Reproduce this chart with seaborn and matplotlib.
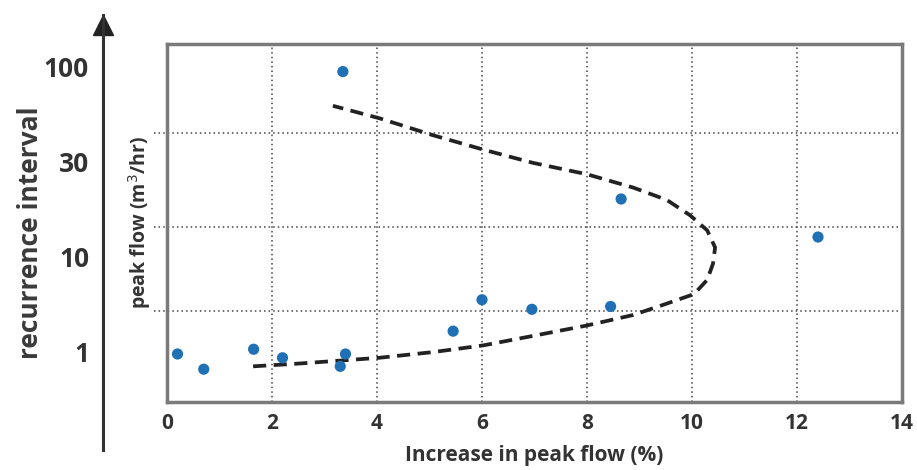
import matplotlib
matplotlib.use("Agg")
import matplotlib.pyplot as plt
import seaborn as sns
import pandas as pd

# observed events: increase in peak flow (%) and position on the recurrence axis
obs_increase = [0.2, 0.7, 1.65, 2.2, 3.4, 3.3, 5.45, 6.0, 6.95, 8.45, 8.65, 12.4, 3.35]
obs_position = [-0.02, -0.18, 0.03, -0.06, -0.02, -0.15, 0.22, 0.55, 0.45, 0.48, 1.61, 1.21, 2.95]

# fitted envelope (dashed curve)
fit_increase = [1.64, 2.53, 4.04, 5.07, 6.02, 6.97, 8.00, 8.88, 9.52, 10.04, 10.29, 10.40,
                10.44, 10.29, 9.96, 9.52, 8.88, 8.00, 6.97, 6.02, 5.07, 4.04, 3.16]
fit_position = [-0.15, -0.12, -0.06, 0.00, 0.07, 0.17, 0.28, 0.39, 0.51, 0.61, 0.76, 0.93,
                1.10, 1.28, 1.44, 1.60, 1.73, 1.87, 1.99, 2.13, 2.28, 2.46, 2.59]

# recurrence interval labels on the outer arrow axis
ri_labels = ["1", "10", "30", "100"]
ri_positions = [0, 1, 2, 3]

x_ticks = [0, 2, 4, 6, 8, 10, 12, 14]
grid_y = [0.43, 1.32, 2.30]

obs = pd.DataFrame({"increase": obs_increase, "position": obs_position})
fit = pd.DataFrame({"increase": fit_increase, "position": fit_position})

sns.set_style("white")
plt.rcParams["font.family"] = ["Open Sans", "DejaVu Sans"]
txt = "#333333"

fig = plt.figure(figsize=(9.17, 4.70), dpi=100)
W, H = 917, 470

# main box
ax = fig.add_axes([167 / W, (H - 402) / H, (902 - 167) / W, (402 - 44) / H])
ax.set_xlim(0, 14)
ax.set_ylim(-0.525, 3.24)

for xv in x_ticks[1:-1]:
    ax.axvline(xv, color="#444444", lw=1.1, ls=(0, (1, 2)), zorder=1)
for yv in grid_y:
    ax.plot([-0.25, 13.95], [yv, yv], color="#444444", lw=1.1, ls=(0, (1, 2)),
            clip_on=False, zorder=1)

sns.lineplot(data=fit, x="increase", y="position", sort=False, estimator=None,
             color="#222222", lw=2.7, ls=(0, (3.5, 2)), ax=ax, zorder=3)
sns.scatterplot(data=obs, x="increase", y="position", color="#1f70b5", s=65,
                edgecolor="none", ax=ax, zorder=4)

for sp in ax.spines.values():
    sp.set_visible(True)
    sp.set_color("#7a7a7a")
    sp.set_linewidth(2.5)

ax.set_xticks(x_ticks)
ax.set_xticklabels([str(t) for t in x_ticks], fontsize=15, fontweight="bold", color=txt)
ax.tick_params(axis="x", length=0, pad=8)
ax.set_yticks([])
ax.set_xlabel("Increase in peak flow (%)", fontsize=15, fontweight="bold", color=txt, labelpad=8)
ax.set_ylabel("peak flow (m$^3$/hr)", fontsize=14, fontweight="bold", color=txt, labelpad=10)

# outer recurrence-interval arrow axis
ax2 = fig.add_axes([103 / W, (H - 450) / H, 0.001, (450 - 15) / H])
ax2.set_ylim(-1.03, 3.54)
ax2.set_xlim(0, 1)
for name, sp in ax2.spines.items():
    sp.set_visible(name == "left")
ax2.spines["left"].set_color("#333333")
ax2.spines["left"].set_linewidth(2.2)
ax2.plot([0], [3.43], marker="^", markersize=14, color="#222222", clip_on=False)
ax2.set_xticks([])
ax2.set_yticks(ri_positions)
ax2.set_yticklabels(ri_labels, fontsize=19, fontweight="bold", color=txt)
ax2.tick_params(axis="y", length=0, pad=10)
ax2.set_ylabel("recurrence interval", fontsize=19, fontweight="bold", color="#3a3a3a", labelpad=0)
ax2.patch.set_alpha(0)

fig.savefig("out.png", dpi=100)
